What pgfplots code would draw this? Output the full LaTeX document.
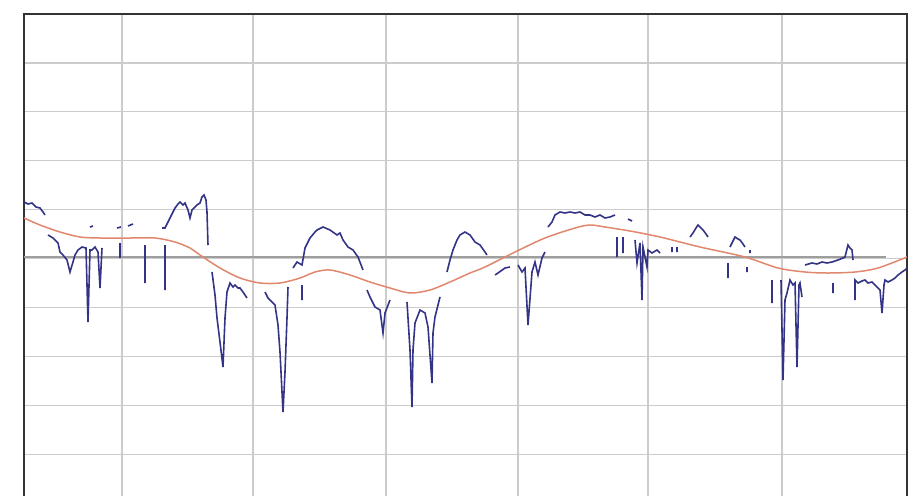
\documentclass[border=0pt]{standalone}
\usepackage{pgfplots}
\pgfplotsset{compat=1.18}
\definecolor{navyline}{RGB}{52,52,135}
\definecolor{salmon}{RGB}{225,135,110}
\begin{document}
\begin{tikzpicture}
\begin{axis}[
  name=ax, at={(0,0)}, anchor=south west,
  scale only axis, width=441.5pt, height=244.5pt,
  xmin=0, xmax=883, ymin=0, ymax=489,
  xtick={98,229,362,494,624,758},
  ytick={0,48.9,97.8,146.7,195.6,244.5,293.4,342.3,391.2,440.1,489},
  xticklabels={}, yticklabels={},
  major tick length=0pt,
  grid=major,
  grid style={draw=black!20, line width=0.6pt},
  axis line style={draw=black!80, line width=1.1pt},
  unbounded coords=jump,
  clip=true,
]
% darker reference line
\addplot[draw=black!38, line width=0.8pt] coordinates {(0,246) (862,246)};
% smooth trend
\addplot[salmon, line width=0.75pt, smooth] coordinates {
(0,285) (16,278) (36,271) (56,266) (76,265) (106,265) (131,265) (151,261)
(166,255) (176,248) (196,235) (216,225) (236,220) (256,220) (276,225)
(291,231) (306,233) (326,228) (346,221) (366,215) (386,210) (406,213)
(426,221) (446,230) (461,236) (491,251) (521,265) (551,275) (566,278)
(581,276) (606,272) (636,266) (676,256) (721,246) (754,235) (781,231)
(804,230) (831,231) (854,235) (883,246)};
% noisy series with gaps
\addplot[navyline, line width=0.8pt] table {
x y
0 301
4 299
8 300
12 296
16 295
19 291
21 288
nan nan
24 268
29 265
34 260
36 251
39 248
43 243
46 231
49 241
51 248
54 253
58 256
62 255
64 181
66 253
68 253
71 256
74 251
76 215
78 255
nan nan
66 276
69 277
nan nan
93 275
97 276
nan nan
104 277
109 279
nan nan
96 260
96 245
nan nan
121 258
121 220
nan nan
141 258
141 213
nan nan
138 275
141 275
146 285
151 295
154 299
156 301
159 298
161 300
164 293
166 285
168 293
171 296
173 298
176 300
178 306
180 308
182 303
183 291
184 258
nan nan
188 231
191 208
193 185
196 161
199 136
201 185
203 211
206 220
209 216
211 218
214 215
216 215
219 211
221 208
223 205
nan nan
241 211
244 205
248 201
251 198
254 178
256 151
258 111
259 91
261 131
263 185
264 216
nan nan
269 235
273 241
278 238
281 255
286 265
291 271
293 273
299 276
306 273
313 268
316 270
319 263
324 256
329 253
334 246
339 233
nan nan
278 218
278 203
nan nan
343 213
346 206
351 196
356 193
359 170
361 190
366 203
nan nan
383 201
386 153
388 96
389 153
391 180
396 193
401 190
404 176
408 120
409 170
411 186
416 206
nan nan
423 231
426 243
429 253
433 263
436 268
441 271
446 268
451 261
456 258
461 251
463 248
nan nan
471 228
474 230
481 235
486 236
nan nan
494 238
498 231
501 235
504 178
508 231
511 241
514 228
518 245
521 251
nan nan
524 276
528 281
531 288
536 291
541 290
546 291
551 290
556 291
561 288
566 288
571 286
576 288
581 285
586 286
591 288
nan nan
604 284
608 282
nan nan
593 266
593 246
nan nan
599 266
599 250
nan nan
611 263
613 240
616 260
618 203
619 256
623 236
624 253
628 250
633 253
636 250
nan nan
648 256
648 251
nan nan
653 256
653 251
nan nan
666 266
669 270
672 275
674 278
677 275
679 273
682 269
684 266
nan nan
704 240
704 225
nan nan
706 256
708 260
711 266
714 264
716 263
719 259
721 256
nan nan
723 236
723 231
nan nan
726 253
726 250
nan nan
748 223
748 200
nan nan
757 223
759 123
761 203
763 210
766 223
769 218
771 220
773 136
775 218
776 220
778 206
nan nan
781 238
788 240
793 239
798 241
803 240
808 241
814 243
819 245
821 246
824 258
826 255
828 253
829 243
nan nan
809 220
809 210
nan nan
831 203
831 223
834 220
838 222
841 223
844 220
848 221
853 216
856 213
858 190
860 218
861 223
864 221
868 223
871 225
874 228
878 231
881 233
883 235
};
\end{axis}
\pgfresetboundingbox
\path[use as bounding box] ([xshift=-12pt,yshift=4pt]ax.south west) rectangle ([xshift=7pt,yshift=7pt]ax.north east);
\end{tikzpicture}
\end{document}
